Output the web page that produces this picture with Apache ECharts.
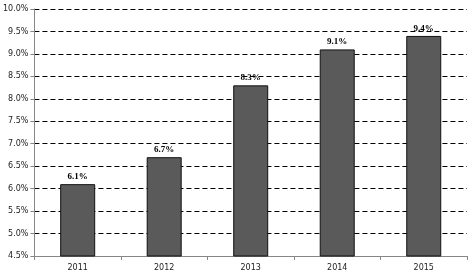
<!DOCTYPE html>
<html><head><meta charset="utf-8">
<script src="https://cdn.jsdelivr.net/npm/echarts@6/dist/echarts.min.js"></script>
<style>html,body{margin:0;padding:0;background:#fff}#c{width:476px;height:278px}</style>
</head><body><div id="c"></div>
<script>
const categories = ['2011','2012','2013','2014','2015'];
const values = [6.1, 6.7, 8.3, 9.1, 9.4];
const yMin = 4.5, yMax = 10.0, yStep = 0.5;

const chart = echarts.init(document.getElementById('c'), null, {renderer:'canvas'});
chart.setOption({
  animation:false,
  backgroundColor:'#fff',
  grid:{left:34, right:9, top:9, bottom:22},
  xAxis:{
    type:'category', data:categories, boundaryGap:true,
    axisLine:{lineStyle:{color:'#868686', width:1}},
    axisTick:{show:true, alignWithLabel:false, length:4, lineStyle:{color:'#868686'}},
    axisLabel:{color:'#222', fontFamily:'DejaVu Sans', fontSize:8, margin:8},
    splitLine:{show:false}
  },
  yAxis:{
    type:'value', min:yMin, max:yMax, interval:yStep,
    axisLine:{show:true, lineStyle:{color:'#868686', width:1}},
    axisTick:{show:true, length:4, lineStyle:{color:'#868686'}},
    axisLabel:{color:'#222', fontFamily:'DejaVu Sans', fontSize:8, margin:6,
      formatter:v=>v.toFixed(1)+'%'},
    splitLine:{show:true, lineStyle:{color:'#000', type:[5,3], width:1}}
  },
  series:[{
    type:'bar', data:values, barWidth:35,
    itemStyle:{color:'#5a5a5a', borderColor:'#111', borderWidth:1},
    label:{show:true, position:'top', distance:3, color:'#000',
      fontFamily:'Liberation Serif', fontWeight:'bold', fontSize:9,
      formatter:p=>p.value.toFixed(1)+'%'}
  }]
});
</script></body></html>
